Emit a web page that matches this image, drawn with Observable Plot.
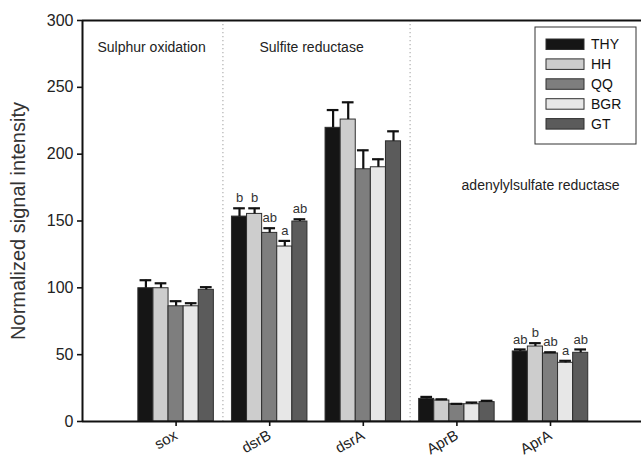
<!DOCTYPE html>
<html><head><meta charset="utf-8">
<script src="https://cdn.jsdelivr.net/npm/d3@7"></script>
<script src="https://cdn.jsdelivr.net/npm/@observablehq/plot@0.6"></script>
<style>body{margin:0;background:#fff} #chart{width:641px;height:461px}</style>
</head><body><div id="chart"></div>
<script>
const categories = ["sox", "dsrB", "dsrA", "AprB", "AprA"];
const seriesNames = ["THY", "HH", "QQ", "BGR", "GT"];
const seriesColors = ["#151515", "#cdcdcd", "#7e7e7e", "#e7e7e7", "#5b5b5b"];
// mean values per series, in category order
const THY = [99.7, 153.3, 219.7, 16.9, 52.4];
const HH  = [99.7, 155.3, 225.9, 15.7, 56.1];
const QQ  = [86.2, 141.1, 188.7, 12.9, 50.9];
const BGR = [86.2, 130.9, 190.2, 12.9, 43.9];
const GT  = [98.5, 149.6, 209.6, 14.5, 51.4];
// upper error (SE) per series
const THY_err = [6.0, 6.2, 13.3, 1.5, 1.5];
const HH_err  = [3.7, 4.2, 12.9, 0.9, 2.5];
const QQ_err  = [3.8, 3.5, 14.2, 0.3, 0.9];
const BGR_err = [2.3, 4.2, 6.0, 1.3, 1.5];
const GT_err  = [2.0, 1.7, 7.5, 1.0, 2.5];
// significance letters
const letters_dsrB = ["b", "b", "ab", "a", "ab"];
const letters_AprA = ["ab", "b", "ab", "a", "ab"];
const groupLabels = ["Sulphur oxidation", "Sulfite reductase", "adenylylsulfate reductase"];
const yTicks = [0, 50, 100, 150, 200, 250, 300];
const yLabel = "Normalized signal intensity";

const values = [THY, HH, QQ, BGR, GT];
const errs = [THY_err, HH_err, QQ_err, BGR_err, GT_err];
const letters = {dsrB: letters_dsrB, AprA: letters_AprA};

const barW = 0.1613;   // bar width in group units
const capHalf = 0.0625;
const rows = [];
categories.forEach((cat, ci) => {
  seriesNames.forEach((s, si) => {
    const v = values[si][ci], e = errs[si][ci];
    const x1 = ci + 1 + (si - 2.5) * barW;
    rows.push({cat, ci, series: s, si, value: v, top: v + e, x1, x2: x1 + barW, xc: x1 + barW / 2,
      letter: letters[cat] ? letters[cat][si] : null});
  });
});
const letterRows = rows.filter(d => d.letter);

const annot = [
  {text: groupLabels[0], x: 0.16, y: 279.8},
  {text: groupLabels[1], x: 1.89, y: 279.8},
  {text: groupLabels[2], x: 4.05, y: 176.5}
];

const FONT = "'Liberation Sans', Arial, Helvetica, sans-serif";
const plot = Plot.plot({
  width: 641, height: 461,
  marginLeft: 82, marginRight: 0, marginTop: 20, marginBottom: 40,
  style: {fontFamily: FONT, fontSize: "14px", color: "#222", background: "#fff", overflow: "visible"},
  x: {domain: [0, 6], range: [82, 643.6]},
  y: {domain: [0, 300], range: [421, 20]},
  color: {domain: seriesNames, range: seriesColors},
  marks: [
    Plot.ruleX([1.5, 3.5], {stroke: "#b0b0b0", strokeDasharray: "1.2,2.8", strokeWidth: 1.2}),
    Plot.rect(rows, {x1: "x1", x2: "x2", y1: 0, y2: "value", fill: "series", stroke: "#2e2e2e", strokeWidth: 1}),
    Plot.ruleX(rows, {x: "xc", y1: "value", y2: "top", stroke: "#111", strokeWidth: 2.2}),
    Plot.ruleY(rows, {y: "top", x1: d => d.xc - capHalf, x2: d => d.xc + capHalf, stroke: "#111", strokeWidth: 2.2}),
    Plot.text(letterRows, {x: "xc", y: "top", text: "letter", dy: -10, fontSize: 13, fill: "#333"}),
    Plot.text(annot, {x: "x", y: "y", text: "text", textAnchor: "start", fontSize: 14, fill: "#222"}),
    Plot.ruleX([0], {stroke: "#111", strokeWidth: 2}),
    Plot.ruleY([0, 300], {stroke: "#111", strokeWidth: 2}),
    Plot.axisY({ticks: yTicks, tickSize: 5, tickPadding: 4, label: null, fontSize: 16, stroke: "#111", strokeWidth: 1.6}),
    Plot.axisX({ticks: [1, 2, 3, 4, 5], tickFormat: i => categories[i - 1], tickRotate: -30, tickSize: 5, label: null, fontSize: 15, stroke: "#111", strokeWidth: 1.6}),
    Plot.text([yLabel], {frameAnchor: "left", textAnchor: "middle", rotate: -90, dx: -64, fontSize: 20, fill: "#333"})
  ]
});

// legend inside the plot area
const svg = d3.select(plot);
const lg = svg.append("g").attr("font-family", FONT).attr("font-size", 14).attr("text-anchor", "start");
lg.append("rect").attr("x", 535).attr("y", 27).attr("width", 101).attr("height", 117)
  .attr("fill", "#fff").attr("stroke", "#333").attr("stroke-width", 1);
seriesNames.forEach((s, i) => {
  const y = 39 + i * 19.9;
  lg.append("rect").attr("x", 546).attr("y", y).attr("width", 38).attr("height", 10.5)
    .attr("fill", seriesColors[i]).attr("stroke", "#2e2e2e").attr("stroke-width", 1);
  lg.append("text").attr("x", 591).attr("y", y + 5.25).attr("dy", "0.36em").attr("fill", "#111").text(s);
});
document.getElementById("chart").appendChild(plot);
</script>
</body></html>
